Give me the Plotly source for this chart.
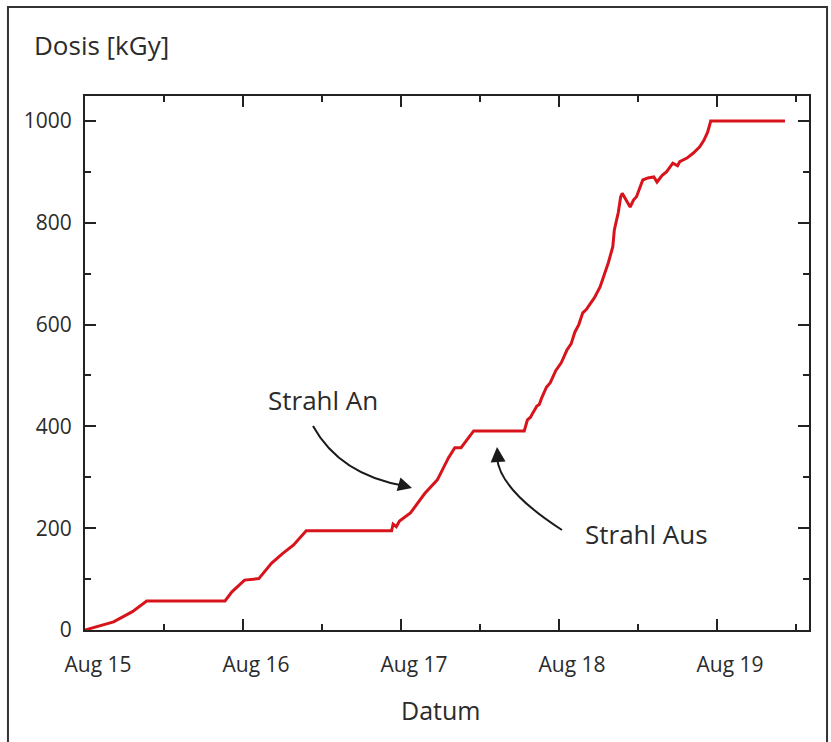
import plotly.graph_objects as go

# ---- data ----
times = [
    "2008-08-15 00:00", "2008-08-15 04:20", "2008-08-15 07:12", "2008-08-15 09:22",
    "2008-08-15 21:16", "2008-08-15 22:19", "2008-08-16 00:14", "2008-08-16 01:26",
    "2008-08-16 02:24", "2008-08-16 04:19", "2008-08-16 06:00", "2008-08-16 07:41",
    "2008-08-16 09:36", "2008-08-16 22:34", "2008-08-16 22:48", "2008-08-16 23:17",
    "2008-08-16 23:46", "2008-08-17 01:26", "2008-08-17 03:36", "2008-08-17 05:31",
    "2008-08-17 07:12", "2008-08-17 08:10", "2008-08-17 09:07", "2008-08-17 11:02",
    "2008-08-17 18:43", "2008-08-17 19:12", "2008-08-17 19:40", "2008-08-17 20:00",
    "2008-08-17 20:38", "2008-08-17 21:00", "2008-08-17 21:20", "2008-08-17 22:05",
    "2008-08-17 22:40", "2008-08-17 23:31", "2008-08-18 00:20", "2008-08-18 01:12",
    "2008-08-18 01:50", "2008-08-18 02:24", "2008-08-18 03:00", "2008-08-18 03:36",
    "2008-08-18 04:10", "2008-08-18 04:48", "2008-08-18 05:20", "2008-08-18 06:14",
    "2008-08-18 06:58", "2008-08-18 07:30", "2008-08-18 08:10", "2008-08-18 08:24",
    "2008-08-18 09:00", "2008-08-18 09:22", "2008-08-18 09:36", "2008-08-18 10:20",
    "2008-08-18 10:48", "2008-08-18 11:20", "2008-08-18 11:46", "2008-08-18 12:43",
    "2008-08-18 13:30", "2008-08-18 14:24", "2008-08-18 14:53", "2008-08-18 15:40",
    "2008-08-18 16:19", "2008-08-18 17:17", "2008-08-18 18:00", "2008-08-18 18:20",
    "2008-08-18 19:26", "2008-08-18 20:24", "2008-08-18 21:22", "2008-08-18 22:00",
    "2008-08-18 22:34", "2008-08-18 22:50", "2008-08-18 23:02", "2008-08-19 10:19",
]
dose = [
    0, 16, 36, 57,
    57, 75, 98, 100,
    101, 131, 150, 167,
    195, 195, 208, 203,
    214, 230, 268, 295,
    338, 358, 358, 391,
    391, 413, 418, 426,
    440, 443, 455, 477,
    486, 510, 525, 550,
    562, 585, 600, 623,
    630, 642, 652, 674,
    701, 722, 753, 786,
    820, 851, 858, 840,
    831, 845, 851, 884,
    888, 890, 880, 893,
    900, 917, 912, 920,
    927, 937, 949, 962,
    978, 990, 1000, 1000,
]

x_tick_format = "%b %d"
y_ticks = [0, 200, 400, 600, 800, 1000]

FONT = "Open Sans"
TXT = "#2b2b2b"
LINE = "#222222"

fig = go.Figure()
fig.add_trace(go.Scatter(
    x=times, y=dose, mode="lines",
    line=dict(color="#d7141c", width=3),
    showlegend=False, hoverinfo="skip",
))

fig.update_layout(
    width=831, height=742,
    margin=dict(l=85, r=22, t=96, b=112),
    paper_bgcolor="white", plot_bgcolor="white",
    font=dict(family=FONT, color=TXT),
    showlegend=False,
)

fig.update_xaxes(
    type="date",
    range=["2008-08-15 00:00", "2008-08-19 13:58"],
    tick0="2008-08-15", dtick=86400000, tickformat=x_tick_format,
    ticks="inside", ticklen=11, tickwidth=2, tickcolor=LINE,
    minor=dict(dtick=43200000, ticks="inside", ticklen=6, tickwidth=2, tickcolor=LINE),
    showline=True, linecolor=LINE, linewidth=2, mirror="ticks",
    showgrid=False, zeroline=False,
    tickfont=dict(family=FONT, size=21, color=TXT),
    ticklabelshift=13, ticklabelstandoff=15,
)
fig.update_yaxes(
    range=[0, 1049],
    tickvals=y_ticks,
    ticks="inside", ticklen=11, tickwidth=2, tickcolor=LINE,
    minor=dict(dtick=100, tick0=0, ticks="inside", ticklen=6, tickwidth=2, tickcolor=LINE),
    showline=True, linecolor=LINE, linewidth=2, mirror="ticks",
    showgrid=False, zeroline=False,
    tickfont=dict(family=FONT, size=21, color=TXT),
    ticklabelstandoff=7,
)

# outer frame
fig.add_shape(type="rect", xref="paper", yref="paper",
              x0=-0.1064, x1=1.0249, y0=-0.2247, y1=1.1667,
              line=dict(color="#333333", width=2), layer="above")

# curved arrows
fig.add_shape(type="path", xref="paper", yref="paper",
              path="M 0.3149,0.3820 Q 0.3522,0.2903 0.4420,0.2697",
              line=dict(color="#1a1a1a", width=2))
fig.add_shape(type="path", xref="paper", yref="paper",
              path="M 0.6588,0.1873 Q 0.5732,0.2622 0.5691,0.3221",
              line=dict(color="#1a1a1a", width=2))

annos = [
    dict(text="Dosis [kGy]", x=-0.0732, y=1.0955, xanchor="left", yanchor="middle", size=26),
    dict(text="Datum", x=0.4917, y=-0.1498, xanchor="center", yanchor="middle", size=25),
    dict(text="Strahl An", x=0.25, y=0.4307, xanchor="left", yanchor="middle", size=26),
    dict(text="Strahl Aus", x=0.6878, y=0.1798, xanchor="left", yanchor="middle", size=26),
]
for a in annos:
    fig.add_annotation(text=a["text"], xref="paper", yref="paper", x=a["x"], y=a["y"],
                       xanchor=a["xanchor"], yanchor=a["yanchor"], showarrow=False,
                       font=dict(family=FONT, size=a["size"], color=TXT))

# arrow heads
fig.add_annotation(text="", xref="paper", yref="paper", x=0.4517, y=0.2659,
                   ax=-14, ay=-4, showarrow=True, arrowhead=2, arrowsize=1.4,
                   arrowwidth=2, arrowcolor="#1a1a1a", standoff=0)
fig.add_annotation(text="", xref="paper", yref="paper", x=0.5691, y=0.3427,
                   ax=1, ay=14, showarrow=True, arrowhead=2, arrowsize=1.5,
                   arrowwidth=2, arrowcolor="#1a1a1a", standoff=0)

fig.write_html(
    "out.html",
    config={"displayModeBar": False},
    post_script="document.body.style.margin='0px';document.body.style.overflow='hidden';",
)
